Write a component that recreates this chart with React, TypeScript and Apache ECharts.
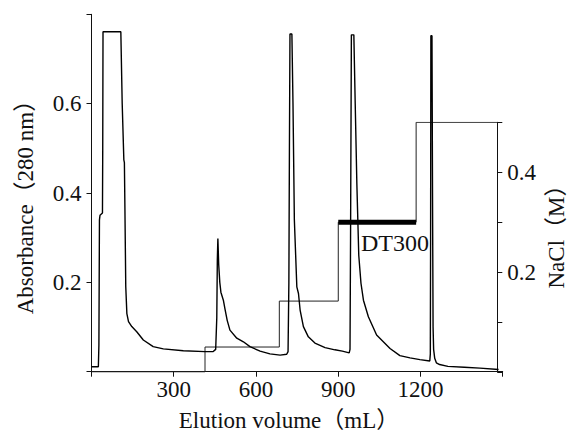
import React, { useEffect, useRef } from 'react';
import * as echarts from 'echarts';

// Absorbance trace (280 nm)
const volumeML = [
  0, 25, 27, 29, 31, 40, 41, 42, 107, 112, 118, 120, 122, 125, 129, 135, 147, 165, 189, 225, 262, 335, 414,
  444, 453, 457, 459, 461, 464, 468, 472, 481, 487, 495, 505, 530, 554, 578, 615, 651, 688, 712,
  717, 720, 722, 724, 731, 735, 740, 749, 755, 761, 773, 791, 815, 852, 888, 915, 940,
  943, 945, 948, 957, 962, 968, 975, 983, 992, 1010, 1040, 1089, 1125, 1162, 1198, 1234,
  1236, 1237, 1238, 1242, 1244, 1246, 1248, 1252, 1258, 1270, 1300, 1360, 1417, 1485,
];
const absorbance = [
  0.011, 0.011, 0.06, 0.34, 0.35, 0.355, 0.5, 0.761, 0.761, 0.6, 0.474, 0.468, 0.36, 0.19, 0.13, 0.112, 0.101, 0.0895, 0.071, 0.056, 0.051, 0.047, 0.045,
  0.045, 0.05, 0.12, 0.25, 0.298, 0.24, 0.2, 0.178, 0.16, 0.14, 0.115, 0.093, 0.075, 0.067, 0.056, 0.046, 0.04, 0.037, 0.039,
  0.045, 0.2, 0.5, 0.756, 0.756, 0.6, 0.34, 0.19, 0.175, 0.138, 0.101, 0.078, 0.064, 0.054, 0.049, 0.046, 0.042,
  0.05, 0.3, 0.754, 0.754, 0.6, 0.42, 0.26, 0.198, 0.16, 0.123, 0.082, 0.052, 0.036, 0.031, 0.027, 0.024,
  0.04, 0.3, 0.752, 0.752, 0.4, 0.1, 0.05, 0.03, 0.02, 0.016, 0.012, 0.01, 0.008, 0.005,
];

// NaCl step gradient (M)
const naclVolume = [0, 414, 414, 685, 685, 900, 900, 1184, 1184, 1480];
const naclConc = [0, 0, 0.05, 0.05, 0.142, 0.142, 0.3, 0.3, 0.5, 0.5];

// DT300 fraction bar
const dt300Volume = [900, 1184];
const dt300Conc = [0.3, 0.3];

// tick labels
const xTickLabels = [300, 600, 900, 1200];
const leftTickLabels = [0.2, 0.4, 0.6];
const rightTickLabels = [0.2, 0.4];

const FONT = "'Liberation Serif', 'Times New Roman', 'Noto Sans CJK JP', serif";
const INK = '#111';

const pairs = (xs: number[], ys: number[]) => xs.map((x, i) => [x, ys[i]]);
const fmt = (list: number[], digits: number) => (v: number) => {
  const hit = list.find((t) => Math.abs(t - v) < 1e-6);
  return hit === undefined ? '' : hit.toFixed(digits);
};

export default function App() {
  const ref = useRef<HTMLDivElement>(null);

  useEffect(() => {
    document.body.style.margin = '0';
    const chart = echarts.init(ref.current!, null, { renderer: 'svg' });
    const axisLine = { show: true, onZero: false, lineStyle: { color: INK, width: 1 } };
    const axisTick = { show: true, length: 5, lineStyle: { color: INK, width: 1 } };
    const labelBase = { fontFamily: FONT, fontSize: 23, color: INK };

    chart.setOption({
      animation: false,
      grid: [
        { left: 91.5, right: 67.3, top: 14.3, bottom: 62.3 },
        { left: 91.5, right: 72.7, top: 122.3, bottom: 62 },
      ],
      xAxis: [
        {
          type: 'value', gridIndex: 0, min: 0, max: 1500, interval: 300,
          axisLine, axisTick, splitLine: { show: false },
          axisLabel: { ...labelBase, margin: 6, formatter: fmt(xTickLabels, 0) },
        },
        { type: 'value', gridIndex: 1, min: 0, max: 1480, show: false },
      ],
      yAxis: [
        {
          type: 'value', gridIndex: 0, min: 0, max: 0.8, interval: 0.2, position: 'left',
          axisLine, axisTick, splitLine: { show: false },
          axisLabel: { ...labelBase, margin: 10, formatter: fmt(leftTickLabels, 1) },
        },
        {
          type: 'value', gridIndex: 1, min: 0, max: 0.5, interval: 0.1, position: 'right',
          axisLine, axisTick, splitLine: { show: false },
          axisLabel: { ...labelBase, margin: 10, formatter: fmt(rightTickLabels, 1) },
        },
      ],
      series: [
        {
          type: 'line', name: 'NaCl', xAxisIndex: 1, yAxisIndex: 1,
          data: pairs(naclVolume, naclConc), showSymbol: false, silent: true,
          lineStyle: { color: '#222', width: 1 },
        },
        {
          type: 'line', name: 'DT300', xAxisIndex: 1, yAxisIndex: 1,
          data: pairs(dt300Volume, dt300Conc), showSymbol: false, silent: true,
          lineStyle: { color: '#000', width: 5, cap: 'butt' },
        },
        {
          type: 'line', name: 'A280', xAxisIndex: 0, yAxisIndex: 0,
          data: pairs(volumeML, absorbance), showSymbol: false, silent: true,
          lineStyle: { color: '#000', width: 1.4 },
        },
      ],
      graphic: [
        {
          type: 'text', x: 25, y: 201.5, rotation: Math.PI / 2,
          style: { text: 'Absorbance（280 nm）', font: `23px ${FONT}`, fill: INK, align: 'center', verticalAlign: 'middle', textAlign: 'center', textVerticalAlign: 'middle' },
        },
        {
          type: 'text', x: 289, y: 420,
          style: { text: 'Elution volume（mL）', font: `23px ${FONT}`, fill: INK, align: 'center', verticalAlign: 'middle', textAlign: 'center', textVerticalAlign: 'middle' },
        },
        {
          type: 'text', x: 556, y: 231, rotation: Math.PI / 2,
          style: { text: 'NaCl（M）', font: `23px ${FONT}`, fill: INK, align: 'center', verticalAlign: 'middle', textAlign: 'center', textVerticalAlign: 'middle' },
        },
        {
          type: 'text', x: 361, y: 243,
          style: { text: 'DT300', font: `24px ${FONT}`, fill: INK, align: 'left', verticalAlign: 'middle', textAlign: 'left', textVerticalAlign: 'middle' },
        },
      ],
    });
    return () => chart.dispose();
  }, []);

  return <div ref={ref} style={{ position: 'absolute', left: 0, top: 0, width: 570, height: 434 }} />;
}
